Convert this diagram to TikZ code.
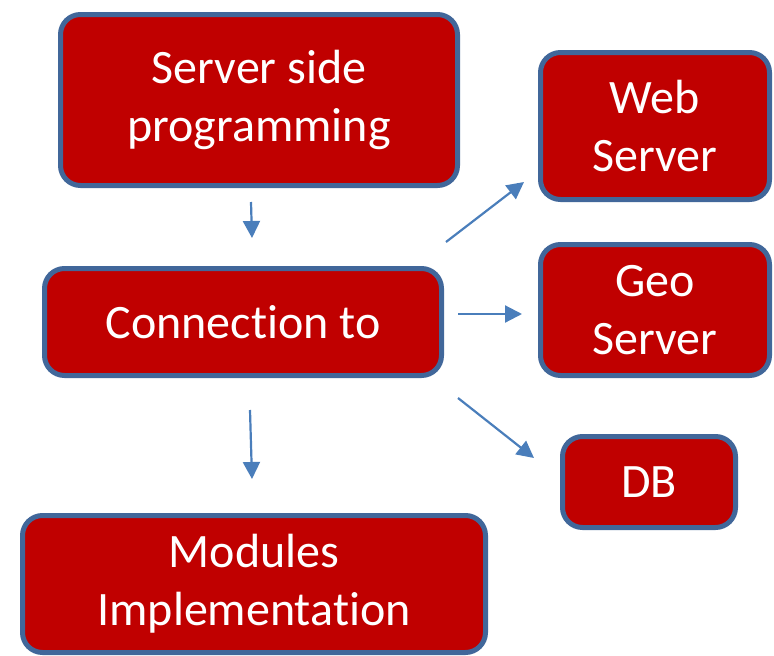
\documentclass[tikz,border=0pt]{standalone}
\usepackage{fontspec}
\setmainfont{Carlito}[RawFeature={-liga;-clig;-calt;-dlig}]
\usepackage{xcolor}
\usetikzlibrary{positioning,arrows.meta}
\definecolor{boxred}{HTML}{C00000}
\definecolor{boxline}{HTML}{41679A}
\definecolor{arrowblue}{HTML}{4A7EBB}

\begin{document}
\begin{tikzpicture}[x=1pt,y=-1pt,
		block/.style={draw=boxline,fill=boxred,line width=5pt,rounded corners=20pt,
			text=white,align=center,inner sep=0pt,font=\fontsize{48}{58}\selectfont},
		link/.style={draw=arrowblue,line width=2.2pt,-{Triangle[length=17pt,width=17pt]}}]
		\useasboundingbox (0,0) rectangle (774,656);
		\node[block,minimum width=397pt,minimum height=171pt] (server) at (259,100) {Server side\\programming};
		\node[block,minimum width=397pt,minimum height=107pt] (conn) at (243,322) {Connection to};
		\node[block,minimum width=463pt,minimum height=137pt] (modules) at (254,584) {Modules\\Implementation};
		\node[block,minimum width=229pt,minimum height=147pt] (web) at (655,126) {Web\\Server};
		\node[block,minimum width=229pt,minimum height=131pt] (geo) at (655,310) {Geo\\Server};
		\node[block,minimum width=173pt,minimum height=91pt] (db) at (649,482) {DB};
	
		\draw[link] ([xshift=-8pt,yshift=-14pt]server.south) -- ([xshift=9pt,yshift=28pt]conn.north);
		\draw[link] ([xshift=7pt,yshift=-32pt]conn.south) -- ([xshift=-2pt,yshift=34pt]modules.north);
		\draw[link] ([xshift=2pt,yshift=24pt]conn.north east) -- ([xshift=-14pt,yshift=20pt]web.south west);
		\draw[link] ([xshift=14pt,yshift=8pt]conn.east) -- ([xshift=-16pt,yshift=-4pt]geo.west);
		\draw[link] ([xshift=14pt,yshift=-20pt]conn.south east) -- ([xshift=-26pt,yshift=-24pt]db.north west);
	\end{tikzpicture}
\end{document}
